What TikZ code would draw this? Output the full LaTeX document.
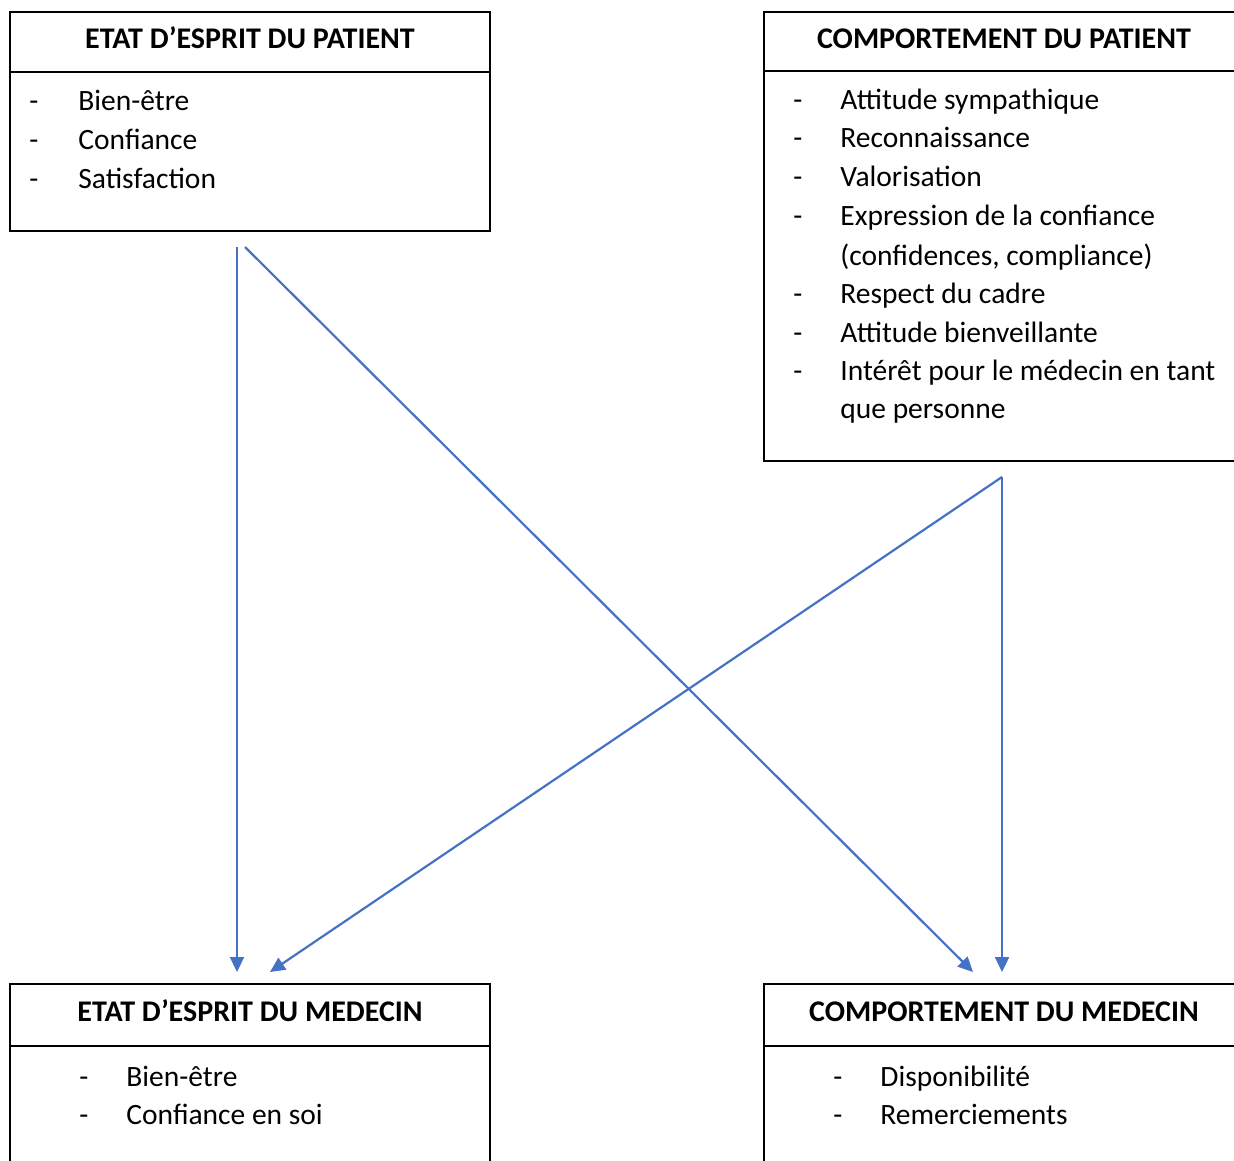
\documentclass[tikz,border=0pt]{standalone}
\usepackage{fontspec}
\setmainfont{Carlito}
\usepackage{tikz}
\usetikzlibrary{arrows.meta}
\definecolor{linkblue}{HTML}{4472C4}
\tikzstyle{panel}=[draw, line width=1pt, inner sep=0pt, outer sep=0pt, anchor=north west]
\tikzstyle{head}=[font=\fontsize{15}{18}\selectfont\bfseries, anchor=base, inner sep=0pt]
\tikzstyle{item}=[font=\fontsize{14.75}{17}\selectfont, anchor=base west, inner sep=0pt]
\tikzstyle{link}=[draw=linkblue, line width=1.1pt, -{Triangle[length=7.5pt,width=7pt]}]

\begin{document}
\begin{tikzpicture}[x=.5pt, y=-.5pt]
		\useasboundingbox (0,0) rectangle (1234,1160);

		% etat d'esprit du patient
		\node[panel, minimum width=240pt, minimum height=30pt] (espP) at (10,12) {};
		\node[panel, minimum width=240pt, minimum height=79.5pt] (espPb) at (espP.south west) {};
		\node[head] (espPt) at (250,49) {ETAT D’ESPRIT DU PATIENT};
		\foreach \y/\t in {111/Bien-être, 150/Confiance, 189/Satisfaction}{
			\node[item] (espPd\y) at (29,\y) {-};
			\node[item] (espPi\y) at (78,\y) {\t};
		}

		% comportement du patient
		\node[panel, minimum width=240pt, minimum height=29.5pt] (comP) at (764,12) {};
		\node[panel, minimum width=240pt, minimum height=195pt] (comPb) at (comP.south west) {};
		\node[head] (comPt) at (1004,49) {COMPORTEMENT DU PATIENT};
		\foreach \y/\t in {110/Attitude sympathique, 148/Reconnaissance, 187/Valorisation, 226/Expression de la confiance, 303/Respect du cadre, 342/Attitude bienveillante, 380/Intérêt pour le médecin en tant}{
			\node[item] (comPd\y) at (793,\y) {-};
			\node[item] (comPi\y) at (840,\y) {\t};
		}
		\node[item] (comPi265) at (840,265) {(confidences, compliance)};
		\node[item] (comPi418) at (840,418) {que personne};

		% etat d'esprit du medecin
		\node[panel, minimum width=240pt, minimum height=31pt] (espM) at (10,984) {};
		\node[panel, minimum width=240pt, minimum height=80pt] (espMb) at (espM.south west) {};
		\node[head] (espMt) at (250,1021) {ETAT D’ESPRIT DU MEDECIN};
		\foreach \y/\t in {1086/Bien-être, 1124/Confiance en soi}{
			\node[item] (espMd\y) at (79,\y) {-};
			\node[item] (espMi\y) at (126,\y) {\t};
		}

		% comportement du medecin
		\node[panel, minimum width=240pt, minimum height=31pt] (comM) at (764,984) {};
		\node[panel, minimum width=240pt, minimum height=80pt] (comMb) at (comM.south west) {};
		\node[head] (comMt) at (1004,1021) {COMPORTEMENT DU MEDECIN};
		\foreach \y/\t in {1086/Disponibilité, 1124/Remerciements}{
			\node[item] (comMd\y) at (833,\y) {-};
			\node[item] (comMi\y) at (880,\y) {\t};
		}

		% liens
		\coordinate (espPout1) at (237,247);
		\coordinate (espPout2) at (245,247);
		\coordinate (comPout) at (1002,477);
		\coordinate (espMin1) at (237,972);
		\coordinate (espMin2) at (270,972);
		\coordinate (comMin1) at (973,972);
		\coordinate (comMin2) at (1002,972);
		\draw[link] (espPout1) -- (espMin1);
		\draw[link] (espPout2) -- (comMin1);
		\draw[link] (comPout) -- (espMin2);
		\draw[link] (comPout) -- (comMin2);

\end{tikzpicture}
\end{document}
